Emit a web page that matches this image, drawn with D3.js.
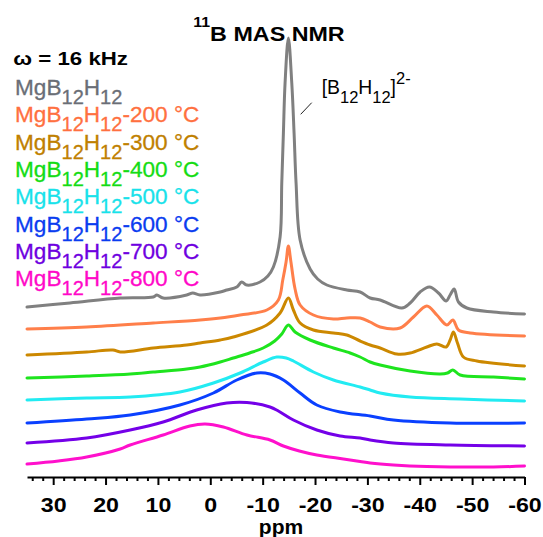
<!DOCTYPE html>
<html>
<head>
<meta charset="utf-8">
<script src="https://cdn.jsdelivr.net/npm/d3@7"></script>
<style>
  html, body { margin: 0; padding: 0; background: #ffffff; }
  svg { display: block; }
</style>
</head>
<body>
<svg id="chart" width="543" height="537"></svg>
<script>
// ---------- DATA (ppm, stacked intensity in arbitrary units) ----------
const seriesNames = ["MgB12H12", "MgB12H12-200 °C", "MgB12H12-300 °C", "MgB12H12-400 °C",
                     "MgB12H12-500 °C", "MgB12H12-600 °C", "MgB12H12-700 °C", "MgB12H12-800 °C"];
const legendSuffix = ["", "-200 °C", "-300 °C", "-400 °C", "-500 °C", "-600 °C", "-700 °C", "-800 °C"];
const seriesColors = ["#808080", "#ff7f4a", "#cc8800", "#1ee41e", "#22ebf2", "#0a40ff", "#7400e8", "#ff10cc"];
const legendColors = ["#6a6e76", "#ff7040", "#c08000", "#14dc14", "#18e2ea", "#0a3cf0", "#6e00e0", "#ff08c8"];

const gray = [[35,170],[26.8,174],[17.2,179],[10.9,180],[10.2,182],[9.0,179],[4.5,182],[3.35,184],[1.95,182],
  [-1.9,185],[-3.15,187],[-5.06,190],[-6.0,195],[-6.97,192],[-9.5,195],[-11,201],[-12.05,210],[-13.33,240],
  [-13.65,294],[-13.96,344],[-14.28,394],[-14.91,439],[-15.56,394],[-16.0,344],[-16.38,294],[-17.15,237],
  [-19.06,208],[-20.5,198],[-22.25,192],[-26.07,187],[-28.61,185],[-30.52,179],[-32.43,177],[-36.58,169],
  [-38.16,174],[-40.07,185],[-41.85,190],[-43.57,184],[-45.04,176],[-45.8,182],[-46.57,188],[-47.39,175],
  [-48.99,169],[-54.07,165],[-60,163]];
const t200 = [[35,148],[23.6,150],[10.9,154],[1.95,157],[-1.9,159],[-5.7,162],[-10.8,167],[-13.0,177],
  [-13.84,197],[-14.47,215],[-14.91,231],[-15.4,215],[-16.19,188],[-17.15,172],[-19.69,162],[-23.51,158],
  [-26.07,159],[-28.61,159],[-30.52,155],[-32.43,150],[-36.25,149],[-38.79,160],[-41.35,171],[-43.26,162],
  [-45.17,152],[-46.32,157],[-47.39,147],[-49.62,144],[-60,141]];
const t300 = [[35,122],[23.6,125],[18.6,127],[17.2,125],[10.9,129],[4.5,132],[1.95,134],[-1.9,137],[-4.4,140],
  [-10.8,152],[-13.33,164],[-14.91,179],[-15.87,167],[-17.15,154],[-19.69,147],[-23.51,144],[-26.07,142],
  [-28.61,136],[-30.52,132],[-32.43,129],[-35.62,123],[-38.16,124],[-41.35,130],[-43.26,133],[-45.04,130],
  [-45.8,137],[-46.43,145],[-47.2,134],[-48.34,120],[-50.9,116],[-60,111]];
const t400 = [[35,99],[23.6,101],[15.3,103],[10.9,105],[4.5,108],[1.95,110],[-1.9,115],[-4.4,119],[-7.5,124],
  [-10.1,129],[-12.3,136],[-13.65,143],[-14.91,152],[-16.19,145],[-19.06,137],[-23.51,129],[-26.7,124],
  [-28.61,120],[-30.52,115],[-32.43,112],[-38.16,106],[-43.89,103],[-45.3,104],[-46.32,107],[-47.71,102],
  [-54.07,100],[-60,98]];
const t500 = [[35,77],[23.6,79],[15.3,80],[5.8,85],[-0.6,94],[-5.7,104],[-10.1,115],[-12.7,120],[-14.5,119],
  [-15.87,116],[-19.69,105],[-23.51,97],[-28.61,90],[-30.52,87],[-32.43,84],[-38.16,80],[-47.71,78],[-60,76]];
const t600 = [[35,54],[23.6,58],[15.3,62],[5.8,72],[-0.6,84],[-5.06,97],[-8.9,104],[-11.4,103],[-13.96,97],
  [-17.15,84],[-20.34,72],[-24.79,65],[-30.52,61],[-34.97,57],[-45.8,54],[-60,54]];
const t700 = [[35,34],[23.6,39],[15.3,47],[9.0,55],[2.6,67],[-3.15,74],[-7,74.5],[-11.4,70],[-13,66],
  [-15.87,57],[-20.34,47],[-24.79,41],[-28.61,39],[-30.52,37],[-34.97,34],[-45.8,32],[-60,31]];
const t800 = [[35,13],[29,16],[23.6,20],[17.2,28],[15.3,32],[9.0,42],[3.9,51],[1.0,53],[-2.5,50],[-7,42],
  [-11.4,37],[-13.96,31],[-17,26],[-20.34,22],[-25.42,18],[-28.61,15.5],[-30.52,14],[-34.97,12],
  [-41.35,10.5],[-54.07,10],[-60,11]];
const allSeries = [gray, t200, t300, t400, t500, t600, t700, t800];

const majorTicks = [30, 20, 10, 0, -10, -20, -30, -40, -50, -60];
const minorTicks = d3.range(34, -61, -2).filter(v => v % 10 !== 0);
const xLabel = "ppm";
const titleText = "B MAS NMR";
const titleSup = "11";
const spinText = "ω = 16 kHz";

// ---------- LAYOUT ----------
const FONT = "'Liberation Sans', Arial, Helvetica, sans-serif";
const svg = d3.select("#chart");
const axisY = 477;
const x = d3.scaleLinear().domain([35, -60]).range([27, 524.5]);
const y = d3.scaleLinear().domain([0, 450]).range([axisY, 27]);

// traces
const line = d3.line().x(d => x(d[0])).y(d => y(d[1])).curve(d3.curveCatmullRom.alpha(0.5));
svg.append("g").selectAll("path").data(allSeries).join("path")
  .attr("d", d => line(d))
  .attr("fill", "none")
  .attr("stroke", (d, i) => seriesColors[i])
  .attr("stroke-width", 3)
  .attr("stroke-linejoin", "round")
  .attr("stroke-linecap", "round");

// axis
const minorAxis = d3.axisBottom(x).tickValues(minorTicks).tickSize(4).tickSizeOuter(0).tickFormat("");
const majorAxis = d3.axisBottom(x).tickValues(majorTicks).tickSize(8).tickSizeOuter(0).tickFormat(d => String(d));
const gMinor = svg.append("g").attr("transform", `translate(0,${axisY})`).call(minorAxis);
gMinor.select(".domain").remove();
gMinor.selectAll(".tick line").attr("stroke", "#000").attr("stroke-width", 2);
const gMajor = svg.append("g").attr("transform", `translate(0,${axisY})`).call(majorAxis);
gMajor.select(".domain").attr("stroke", "#000").attr("stroke-width", 2);
gMajor.selectAll(".tick line").attr("stroke", "#000").attr("stroke-width", 2);
gMajor.selectAll(".tick text")
  .attr("y", 34.7).attr("dy", 0)
  .attr("font-family", FONT).attr("font-size", 20).attr("font-weight", "bold").attr("fill", "#000")
  .attr("transform", "scale(1.16,1)");

svg.append("text").attr("x", 281).attr("y", 534).attr("text-anchor", "middle")
  .attr("font-family", FONT).attr("font-size", 21).attr("font-weight", "bold").text(xLabel);

// rich text helper
function rich(x0, y0, parts, o) {
  const g = svg.append("g").attr("transform", `translate(${x0},${y0})`);
  const t = g.append("text").attr("font-family", FONT).attr("font-size", o.size)
    .attr("font-weight", o.weight || "normal").attr("fill", o.color || "#000");
  if (o.stroke) t.attr("stroke", o.color || "#000").attr("stroke-width", o.stroke);
  let cur = 0;
  parts.forEach(p => {
    const off = p.sub ? o.subDy : (p.sup ? -o.supDy : 0);
    t.append("tspan").attr("dy", off - cur).attr("font-size", (p.sub || p.sup) ? o.small : o.size).text(p.t);
    cur = off;
  });
  return { g, t, x0, y0 };
}
function fit(r, target) {
  const w = r.t.node().getBBox().width;
  const s = target / w;
  r.g.attr("transform", `translate(${r.x0},${r.y0}) scale(${s},1)`);
  return s;
}
function scaleBy(r, s) { r.g.attr("transform", `translate(${r.x0},${r.y0}) scale(${s},1)`); }

// title
const title = rich(193.3, 40.7, [{ t: titleSup, sup: true }, { t: titleText }],
  { size: 20.5, small: 14, supDy: 14, weight: "bold" });
fit(title, 151.7);

// spinning rate
const spin = rich(13.3, 65, [{ t: spinText }], { size: 19, weight: "bold" });
fit(spin, 114.7);

// legend
const rows = seriesNames.map((n, i) => rich(15, 95 + i * 27.3,
  [{ t: "MgB" }, { t: "12", sub: true }, { t: "H" }, { t: "12", sub: true }, { t: legendSuffix[i] }],
  { size: 22, small: 19.5, subDy: 9, color: legendColors[i], stroke: 0.3 }));
const s = fit(rows[1], 184.5);
rows.forEach((r, i) => { if (i !== 1) scaleBy(r, s); });

// annotation
const ann = rich(321.7, 94.3,
  [{ t: "[B" }, { t: "12", sub: true }, { t: "H" }, { t: "12", sub: true }, { t: "]" }, { t: "2-", sup: true }],
  { size: 20, small: 17, subDy: 8.5, supDy: 10 });
fit(ann, 89);
svg.append("line").attr("x1", 311.7).attr("y1", 102.7).attr("x2", 300.7).attr("y2", 114.3)
  .attr("stroke", "#222").attr("stroke-width", 1);
</script>
</body>
</html>
